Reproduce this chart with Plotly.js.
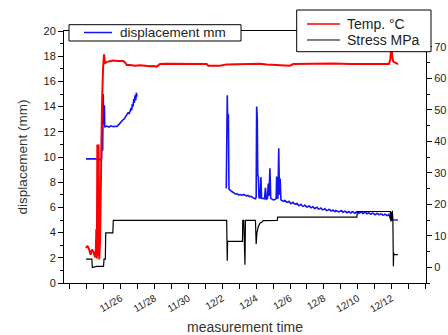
<!DOCTYPE html>
<html>
<head>
<meta charset="utf-8">
<script src="https://cdn.plot.ly/plotly-3.0.1.min.js"></script>
<style>html,body{margin:0;padding:0;background:#fff;}#chart{width:448px;height:335px;}</style>
</head>
<body>
<div id="chart"></div>
<script>
// time axis: days counted from 2015-11-01 00:00 (so 32 = Dec 2)
const labelDays = [26, 28, 30, 32, 34, 36, 38, 40, 42];
const labelText = ['11/26', '11/28', '11/30', '12/2', '12/4', '12/6', '12/8', '12/10', '12/12'];
const firstTickDay = 23, lastTickDay = 44;

const seriesNames = ['displacement mm', 'Temp. \u00b0C', 'Stress MPa'];

// displacement (mm), left axis
const dispDays = [
  23.952, 24.129, 24.306, 24.483, 24.660, 24.778, 24.819, 24.867, 24.896, 24.932, 24.967, 25.002, 25.032, 25.061,
  25.191, 25.309, 25.427, 25.545, 25.664, 25.782, 25.870, 25.959, 26.059, 26.136, 26.195, 26.254, 26.313, 26.372,
  26.431, 26.490, 26.549, 26.608, 26.649, 26.685, 26.726, 26.767, 26.803, 26.844, 26.886, 26.921, 26.962,
  29.600,
  32.234, 32.257, 32.293, 32.322, 32.358, 32.393, 32.452, 32.541, 32.629, 32.718, 32.806, 32.895, 32.983, 33.072,
  33.161, 33.249, 33.338, 33.426, 33.515, 33.603, 33.692, 33.780, 33.869, 33.958, 33.999, 34.028, 34.064, 34.093,
  34.129, 34.164, 34.223, 34.282, 34.318, 34.400, 34.489, 34.548, 34.595, 34.666, 34.713, 34.754, 34.813, 34.861,
  34.932, 35.020, 35.109, 35.179, 35.209, 35.250, 35.286, 35.333, 35.374, 35.416, 35.463, 35.551,
  35.640, 35.699, 35.758, 35.817, 35.876, 35.935, 35.994, 36.053, 36.112, 36.171, 36.230, 36.289, 36.348, 36.407,
  36.466, 36.525, 36.584, 36.643, 36.702, 36.761, 36.820, 36.879, 36.938, 36.997, 37.057, 37.116, 37.175, 37.234,
  37.293, 37.352, 37.411, 37.470, 37.529, 37.588, 37.647, 37.706, 37.765, 37.824, 37.883, 37.942, 38.001, 38.060,
  38.119, 38.178, 38.237, 38.296, 38.355, 38.414, 38.473, 38.532, 38.591, 38.650, 38.709, 38.768, 38.827, 38.886,
  38.945, 39.004, 39.063, 39.122, 39.181, 39.240, 39.299, 39.358, 39.417, 39.476, 39.535, 39.594, 39.654, 39.713,
  39.772, 39.831, 39.890, 39.949, 40.008, 40.067, 40.126, 40.185, 40.244, 40.303, 40.362, 40.421, 40.480, 40.539,
  40.598, 40.657, 40.716, 40.775, 40.834, 40.893, 40.952, 41.011, 41.070, 41.129, 41.188, 41.247, 41.306, 41.365,
  41.424, 41.483, 41.542, 41.601, 41.660, 41.719, 41.778,
  41.837, 41.896, 41.955, 42.073, 42.191, 42.309, 42.369
];
const dispMM = [
  9.85, 9.86, 9.83, 9.85, 9.80, 9.84, 9.70, 9.90, 14.2, 10.5, 15.0, 12.6, 14.1, 12.4,
  12.45, 12.38, 12.47, 12.40, 12.44, 12.42, 12.55, 12.7, 12.85, 12.95, 13.0, 13.15, 13.3, 13.35,
  13.5, 13.45, 13.6, 13.9, 13.7, 14.2, 14.0, 14.6, 14.3, 14.9, 14.5, 15.1, 14.8,
  null,
  7.5, 10.7, 14.9, 12.5, 13.4, 7.45, 7.35, 7.28, 7.2, 7.12, 7.05, 7.08, 6.98, 7.02,
  6.95, 7.03, 6.96, 6.92, 6.95, 6.86, 6.88, 6.76, 6.72, 6.68, 6.8, 14.0, 13.1, 8.6,
  8.4, 6.8, 6.7, 8.4, 6.72, 6.7, 6.68, 7.55, 6.65, 6.7, 7.9, 6.9, 9.1, 6.72,
  6.64, 6.6, 6.62, 6.7, 8.46, 6.7, 6.75, 10.7, 7.0, 8.3, 6.6, 6.52,
  6.48, 6.56, 6.45, 6.40, 6.42, 6.48, 6.38, 6.30, 6.35, 6.40, 6.30, 6.24, 6.25, 6.32,
  6.22, 6.14, 6.18, 6.24, 6.15, 6.08, 6.12, 6.18, 6.10, 6.02, 6.05, 6.12, 6.06, 5.97,
  6.0, 6.06, 5.96, 5.90, 5.98, 6.02, 5.92, 5.86, 5.9, 5.95, 5.86, 5.80, 5.84, 5.90,
  5.8, 5.74, 5.78, 5.84, 5.82, 5.72, 5.74, 5.79, 5.72, 5.66, 5.76, 5.70, 5.7, 5.64,
  5.68, 5.74, 5.72, 5.62, 5.65, 5.70, 5.66, 5.58, 5.62, 5.67, 5.6, 5.55, 5.63, 5.66,
  5.58, 5.54, 5.62, 5.65, 5.6, 5.53, 5.57, 5.63, 5.6, 5.52, 5.55, 5.61, 5.58, 5.50,
  5.54, 5.58, 5.5, 5.45, 5.52, 5.55, 5.48, 5.42, 5.46, 5.52, 5.5, 5.42, 5.44, 5.49,
  5.46, 5.38, 5.4, 5.46, 5.42, 5.35, 5.38,
  5.45, 5.2, 5.05, 5.02, 5.0, 4.98, 5.0
];

// temperature (deg C), right axis
const tempDays = [
  23.952, 24.040, 24.129, 24.217, 24.306, 24.394, 24.483, 24.530, 24.560, 24.589, 24.619, 24.648, 24.690, 24.731,
  24.778, 24.837, 24.896, 24.955, 25.014, 25.073, 25.191, 25.368, 25.545, 25.782, 26.018, 26.153, 26.254, 26.354,
  26.549, 26.844, 27.139, 27.434, 27.730, 27.907, 28.125, 28.202, 28.320, 28.715, 29.205, 29.896, 30.386, 31.077,
  31.171, 31.567, 31.862, 32.257, 33.042, 33.828, 34.223, 34.619, 35.109, 35.699, 35.994, 36.189, 37.175, 38.550,
  39.535, 40.421, 41.306, 41.837, 41.927, 41.986, 42.033, 42.092, 42.293, 42.387
];
const tempC = [
  6.1, 6.8, 5.8, 4.0, 5.6, 4.8, 3.2, 5.5, 12.1, 2.8, 39, 3.5, 39, 2.5,
  8, 38, 52, 63, 67.6, 64.8, 65.2, 65.4, 65.6, 65.5, 65.6, 65.5, 65.0, 64.2,
  64.2, 64.0, 64.1, 63.9, 63.8, 63.9, 63.7, 64.0, 64.5, 64.6, 64.6, 64.7, 64.6, 64.5,
  64.0, 64.1, 64.0, 64.4, 64.5, 64.7, 64.6, 64.4, 64.3, 64.3, 64.0, 64.5, 64.6, 64.7,
  64.5, 64.5, 64.4, 64.5, 66, 71, 67, 65.3, 64.7, 64.5
];

// stress (MPa), right axis
const stressDays = [
  23.952, 24.294, 24.324, 24.571, 24.985, 25.014, 25.091, 25.115, 25.534, 25.563, 32.257, 32.293, 32.311, 33.190,
  33.208, 33.267, 33.290, 33.338, 33.367, 33.958, 33.999, 34.046, 34.123, 34.223, 34.324, 34.418, 35.244, 35.274,
  39.949, 39.973, 41.927, 41.956, 41.986, 42.015, 42.045, 42.074, 42.104, 42.122, 42.163, 42.370
];
const stressMPa = [
  2.6, 2.6, -0.1, 0.3, 0.3, 2.6, 2.6, 10.9, 10.9, 14.9, 14.9, 2.1, 8.2, 8.2,
  14.9, 14.9, 8.5, 0.8, 14.9, 14.9, 7.4, 11.0, 12.9, 14.0, 14.3, 14.8, 14.9, 15.9,
  15.9, 17.7, 17.7, 14.5, 17.5, 14.8, 17.9, 15.0, 0.3, 4.5, 4.0, 4.0
];

const colors = {disp: '#1414f0', temp: '#ff0000', stress: '#000000'};

const tickVals = [], tickText = [];
for (let d = firstTickDay; d <= lastTickDay; d++) {
  tickVals.push(d);
  const i = labelDays.indexOf(d);
  tickText.push(i >= 0 ? labelText[i] : '');
}

const traces = [
  {x: stressDays, y: stressMPa, yaxis: 'y2', name: seriesNames[2], mode: 'lines', line: {color: colors.stress, width: 1.2}},
  {x: dispDays, y: dispMM, yaxis: 'y', name: seriesNames[0], mode: 'lines', connectgaps: false, line: {color: colors.disp, width: 1.6}},
  {x: tempDays, y: tempC, yaxis: 'y2', name: seriesNames[1], mode: 'lines', line: {color: colors.temp, width: 2}}
];

const axisCommon = {showgrid: false, zeroline: false, showline: true, linecolor: '#000', linewidth: 1,
  ticks: 'outside', tickcolor: '#000', tickwidth: 1};

const FONT = 'Arial, "Liberation Sans", sans-serif';
const layout = {
  width: 448, height: 335,
  margin: {l: 64, r: 22, t: 31, b: 52},
  paper_bgcolor: '#fff', plot_bgcolor: '#fff',
  showlegend: false,
  font: {family: FONT, color: '#222'},
  xaxis: Object.assign({}, axisCommon, {
    range: [22.65, 44.03], tickmode: 'array', tickvals: tickVals, ticktext: tickText,
    tickangle: -30, ticklen: 5, mirror: true, tickfont: {size: 10, color: '#222'},
    title: {text: 'measurement time', font: {size: 14, color: '#333'}, standoff: 9}
  }),
  yaxis: Object.assign({}, axisCommon, {
    range: [0, 20], tickmode: 'linear', tick0: 0, dtick: 2, ticklen: 5,
    minor: {ticks: 'outside', dtick: 1, ticklen: 3, tickcolor: '#000'},
    tickfont: {size: 11, color: '#222'},
    title: {text: 'displacement (mm)', font: {size: 13.5, color: '#333'}}
  }),
  yaxis2: Object.assign({}, axisCommon, {
    overlaying: 'y', side: 'right', range: [-5, 75], tickmode: 'linear', tick0: 0, dtick: 10, ticklen: 5,
    minor: {ticks: 'outside', dtick: 5, ticklen: 3, tickcolor: '#000'},
    tickfont: {size: 11, color: '#222'}
  }),
  shapes: [
    {type: 'rect', xref: 'paper', yref: 'paper', x0: 0.0138, x1: 0.489, y0: 0.9603, y1: 1.025,
      fillcolor: '#fff', line: {color: '#000', width: 1}, layer: 'above'},
    {type: 'line', xref: 'paper', yref: 'paper', x0: 0.0552, x1: 0.1326, y0: 0.994, y1: 0.994,
      line: {color: colors.disp, width: 1.5}, layer: 'above'},
    {type: 'rect', xref: 'paper', yref: 'paper', x0: 0.6428, x1: 1.0138, y0: 0.9179, y1: 1.0833,
      fillcolor: '#fff', line: {color: '#000', width: 1}, layer: 'above'},
    {type: 'line', xref: 'paper', yref: 'paper', x0: 0.6713, x1: 0.7624, y0: 1.0278, y1: 1.0278,
      line: {color: colors.temp, width: 1.5}, layer: 'above'},
    {type: 'line', xref: 'paper', yref: 'paper', x0: 0.6713, x1: 0.7624, y0: 0.9643, y1: 0.9643,
      line: {color: colors.stress, width: 1}, layer: 'above'}
  ],
  annotations: [
    {xref: 'paper', yref: 'paper', x: 0.1492, y: 0.994, xanchor: 'left', yanchor: 'middle', showarrow: false,
      text: seriesNames[0], font: {size: 13.5, color: '#222', family: FONT}},
    {xref: 'paper', yref: 'paper', x: 0.7762, y: 1.0278, xanchor: 'left', yanchor: 'middle', showarrow: false,
      text: seriesNames[1], font: {size: 14, color: '#222', family: FONT}},
    {xref: 'paper', yref: 'paper', x: 0.7762, y: 0.9643, xanchor: 'left', yanchor: 'middle', showarrow: false,
      text: seriesNames[2], font: {size: 14, color: '#222', family: FONT}}
  ]
};

Plotly.newPlot('chart', traces, layout, {displayModeBar: false, staticPlot: true});
</script>
</body>
</html>
